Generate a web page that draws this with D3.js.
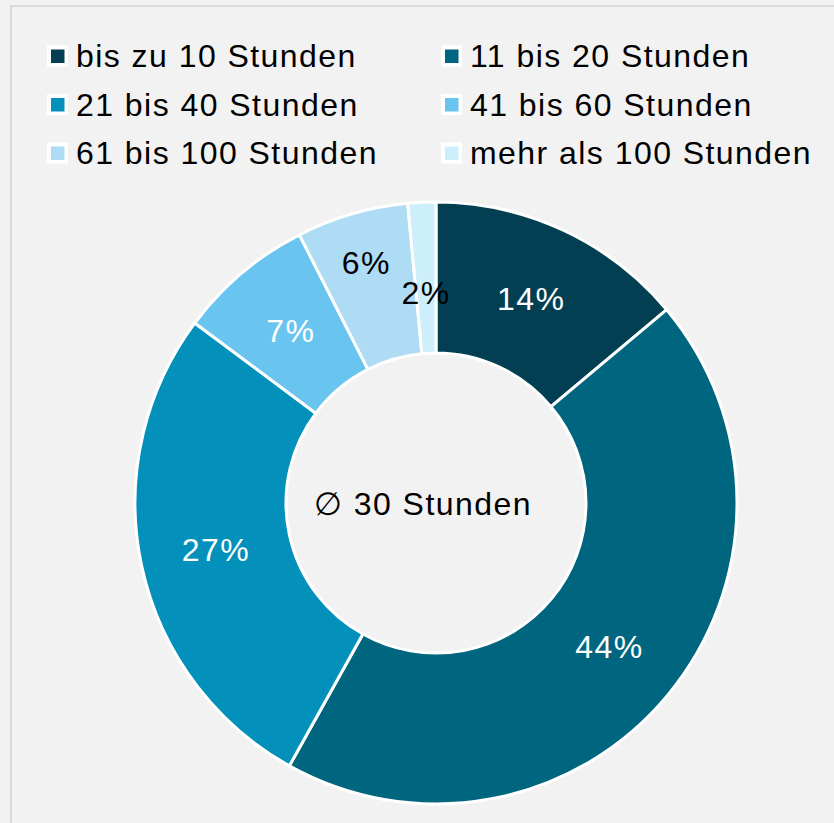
<!DOCTYPE html>
<meta charset="utf-8">
<script src="https://d3js.org/d3.v7.min.js"></script>
<style>
  body { margin: 0; background: #f2f2f2; }
  text { font-family: "Liberation Sans", Arial, sans-serif; font-size: 32px; letter-spacing: 1.45px; }
</style>
<div id="chart"></div>
<script>

// categories and shares (percent)
var categories = ["bis zu 10 Stunden", "11 bis 20 Stunden", "21 bis 40 Stunden",
                  "41 bis 60 Stunden", "61 bis 100 Stunden", "mehr als 100 Stunden"];
var shares = [13.9, 44.2, 27.1, 7.3, 6.0, 1.5];
var colors = ["#033f52", "#00667f", "#0391bb", "#69c4ef", "#aedcf5", "#cdeffb"];
var labelColors = ["#fff", "#fff", "#fff", "#fff", "#000", "#000"];
// data labels of the small slices were moved a bit by hand
var labelRadius = [225, 225, 225, 225, 250, 210];
var centerLabel = "\u2205 30 Stunden";

var width = 834, height = 823;
var cx = 436, cy = 503, outerR = 301, innerR = 150;

var svg = d3.select("#chart")
  .append("svg")
    .attr("width", width)
    .attr("height", height);

svg.append("rect")
  .attr("width", width).attr("height", height)
  .attr("fill", "#f2f2f2");

// chart area frame (left and top edge visible)
svg.append("path")
  .attr("d", "M11," + height + " V6 H" + width)
  .attr("fill", "none")
  .attr("stroke", "#d9d9d9")
  .attr("stroke-width", 2);

// legend, two columns
var legend = svg.append("g")
  .selectAll("g")
  .data(categories)
  .enter()
  .append("g")
    .attr("transform", function(d, i) {
      var x = (i % 2 === 0) ? 47 : 441;
      var y = 56 + Math.floor(i / 2) * 48.5;
      return "translate(" + x + "," + y + ")";
    });

legend.append("rect")
  .attr("x", 0).attr("y", -10.5)
  .attr("width", 21).attr("height", 21)
  .attr("fill", "#fff");

legend.append("rect")
  .attr("x", 4).attr("y", -6.5)
  .attr("width", 13.5).attr("height", 13.5)
  .attr("fill", function(d, i) { return colors[i]; });

legend.append("text")
  .attr("x", 29)
  .attr("y", 11)
  .attr("fill", "#000")
  .text(function(d) { return d; });

// donut
var pie = d3.pie().sort(null).value(function(d) { return d; });
var arc = d3.arc().innerRadius(innerR).outerRadius(outerR);

var g = svg.append("g")
  .attr("transform", "translate(" + cx + "," + cy + ")");

var slices = pie(shares);

g.selectAll("path.slice")
  .data(slices)
  .enter()
  .append("path")
    .attr("class", "slice")
    .attr("d", arc)
    .attr("fill", function(d, i) { return colors[i]; })
    .attr("stroke", "#fff")
    .attr("stroke-width", 3)
    .attr("stroke-linejoin", "round");

g.selectAll("text.label")
  .data(slices)
  .enter()
  .append("text")
    .attr("class", "label")
    .attr("transform", function(d, i) {
      var r = labelRadius[i];
      return "translate(" + d3.arc().innerRadius(r).outerRadius(r).centroid(d) + ")";
    })
    .attr("text-anchor", "middle")
    .attr("dy", "0.35em")
    .attr("fill", function(d, i) { return labelColors[i]; })
    .text(function(d) { return Math.round(d.data) + "%"; });

// average in the hole
g.append("text")
  .attr("x", -13)
  .attr("y", 12)
  .attr("text-anchor", "middle")
  .attr("fill", "#000")
  .text(centerLabel);

</script>
